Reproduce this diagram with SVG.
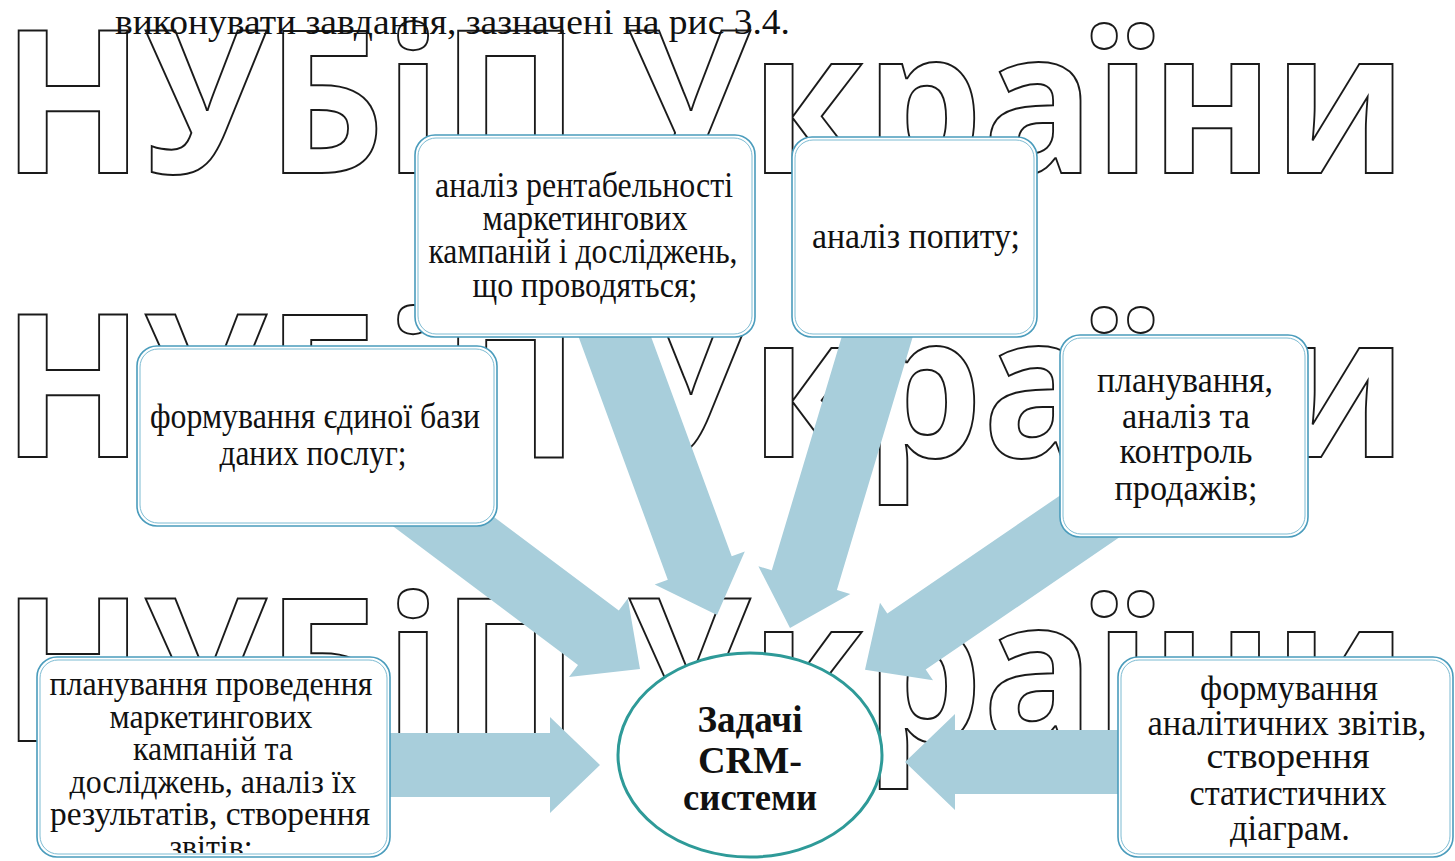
<svg xmlns="http://www.w3.org/2000/svg" width="1455" height="861" viewBox="0 0 1455 861">
<style>
.wm{font-family:"Open Sans",sans-serif;font-weight:700;font-size:200px;fill:none;stroke:#1a1a1a;stroke-width:2}
.arr{fill:#a8cedb}
.box{fill:#ffffff;stroke:#4a9cbc;stroke-width:1.6}
.inner{fill:none;stroke:#7dbbd2;stroke-width:1}
.t{font-family:"Liberation Serif","Times New Roman",serif;font-size:36px;fill:#111;text-anchor:middle}
.s{font-size:33px}
.tb{font-family:"Liberation Serif","Times New Roman",serif;font-size:37px;font-weight:bold;fill:#111;text-anchor:middle}
</style>
<defs>
<clipPath id="c5"><rect x="37" y="657" width="353" height="196"/></clipPath>
</defs>
<rect width="1455" height="861" fill="#ffffff"/>
<g id="watermark">
<text class="wm" x="2" y="173" textLength="1405" lengthAdjust="spacingAndGlyphs">НУБіП України</text>
<text class="wm" x="2" y="457" textLength="1405" lengthAdjust="spacingAndGlyphs">НУБіП України</text>
<text class="wm" x="2" y="741" textLength="1405" lengthAdjust="spacingAndGlyphs">НУБіП України</text>
</g>
<text x="115" y="34" font-family="Liberation Serif, Times New Roman, serif" font-size="36" fill="#111" textLength="675" lengthAdjust="spacingAndGlyphs">виконувати завдання, зазначені на рис 3.4.</text>
<g id="connectors">
<polygon class="arr" points="370,509 578,665 569,677 640,669 627.8,598.6 618.8,610.6 410.8,454.6"/>
<polygon class="arr" points="564.3,298.1 667.8,579.8 654.7,584.6 717,615 744.8,551.5 731.7,556.3 628.2,274.6"/>
<polygon class="arr" points="928.8,283.3 836.9,589.9 850.3,593.9 790,628 758.4,566.3 771.8,570.3 863.6,263.7"/>
<polygon class="arr" points="1132.2,528.6 925.7,669.6 933,680.3 865,669.7 880,602.7 887.3,613.4 1093.8,472.4"/>
<polygon class="arr" points="370,733 550,733 550,717 600,765 550,813 550,797 370,797"/>
<polygon class="arr" points="1140,730 955,730 955,714 905,762 955,810 955,794 1140,794"/>
</g>
<g id="n1">
<rect class="box" x="415" y="135" width="340" height="202" rx="20"/>
<rect class="inner" x="418" y="138" width="334" height="196" rx="18"/>
<text class="t" x="584" y="197" textLength="298" lengthAdjust="spacingAndGlyphs">аналіз рентабельності</text>
<text class="t" x="585" y="230" textLength="205" lengthAdjust="spacingAndGlyphs">маркетингових</text>
<text class="t" x="583" y="263" textLength="309" lengthAdjust="spacingAndGlyphs">кампаній і досліджень,</text>
<text class="t" x="585" y="297" textLength="225" lengthAdjust="spacingAndGlyphs">що проводяться;</text>
</g>
<g id="n2">
<rect class="box" x="792" y="137" width="245" height="200" rx="20"/>
<rect class="inner" x="795" y="140" width="239" height="194" rx="18"/>
<text class="t" x="916" y="248" textLength="208" lengthAdjust="spacingAndGlyphs">аналіз попиту;</text>
</g>
<g id="n3">
<rect class="box" x="137" y="346" width="360" height="180" rx="20"/>
<rect class="inner" x="140" y="349" width="354" height="174" rx="18"/>
<text class="t" x="315" y="428" textLength="330" lengthAdjust="spacingAndGlyphs">формування єдиної бази</text>
<text class="t" x="313" y="465" textLength="187" lengthAdjust="spacingAndGlyphs">даних послуг;</text>
</g>
<g id="n4">
<rect class="box" x="1060" y="335" width="248" height="202" rx="20"/>
<rect class="inner" x="1063" y="338" width="242" height="196" rx="18"/>
<text class="t" x="1185" y="392" textLength="176" lengthAdjust="spacingAndGlyphs">планування,</text>
<text class="t" x="1186" y="428" textLength="128" lengthAdjust="spacingAndGlyphs">аналіз та</text>
<text class="t" x="1186" y="463" textLength="133" lengthAdjust="spacingAndGlyphs">контроль</text>
<text class="t" x="1186" y="500" textLength="143" lengthAdjust="spacingAndGlyphs">продажів;</text>
</g>
<g id="n5">
<rect class="box" x="37" y="657" width="353" height="200" rx="20"/>
<rect class="inner" x="40" y="660" width="347" height="194" rx="18"/>
<g clip-path="url(#c5)">
<text class="t s" x="211" y="695" textLength="323" lengthAdjust="spacingAndGlyphs">планування проведення</text>
<text class="t s" x="211" y="728" textLength="203" lengthAdjust="spacingAndGlyphs">маркетингових</text>
<text class="t s" x="213" y="760" textLength="160" lengthAdjust="spacingAndGlyphs">кампаній та</text>
<text class="t s" x="213" y="793" textLength="287" lengthAdjust="spacingAndGlyphs">досліджень, аналіз їх</text>
<text class="t s" x="210" y="825" textLength="320" lengthAdjust="spacingAndGlyphs">результатів, створення</text>
<text class="t s" x="211" y="858" textLength="83" lengthAdjust="spacingAndGlyphs">звітів;</text>
</g>
</g>
<g id="n6">
<rect class="box" x="1118" y="657" width="335" height="200" rx="20"/>
<rect class="inner" x="1121" y="660" width="329" height="194" rx="18"/>
<text class="t" x="1289" y="700" textLength="178" lengthAdjust="spacingAndGlyphs">формування</text>
<text class="t" x="1287" y="735" textLength="279" lengthAdjust="spacingAndGlyphs">аналітичних звітів,</text>
<text class="t" x="1288" y="768" textLength="163" lengthAdjust="spacingAndGlyphs">створення</text>
<text class="t" x="1288" y="805" textLength="197" lengthAdjust="spacingAndGlyphs">статистичних</text>
<text class="t" x="1290" y="840" textLength="120" lengthAdjust="spacingAndGlyphs">діаграм.</text>
</g>
<g id="center">
<ellipse cx="750" cy="755" rx="132" ry="102" fill="#ffffff" stroke="#2e9a98" stroke-width="3"/>
<text class="tb" x="750" y="732" textLength="105" lengthAdjust="spacingAndGlyphs">Задачі</text>
<text class="tb" x="750" y="773" textLength="104" lengthAdjust="spacingAndGlyphs">CRM-</text>
<text class="tb" x="750" y="810" textLength="134" lengthAdjust="spacingAndGlyphs">системи</text>
</g>
</svg>
